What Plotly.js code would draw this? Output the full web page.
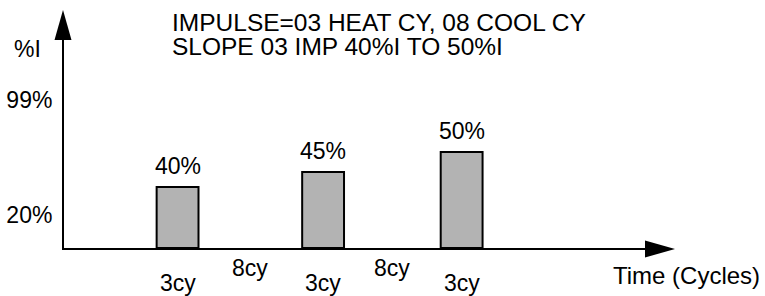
<!DOCTYPE html>
<html><head><meta charset="utf-8">
<script src="https://cdn.plot.ly/plotly-3.0.1.min.js"></script>
<style>html,body{margin:0;padding:0;background:#fff}</style>
</head><body><div id="chart" style="width:765px;height:296px"></div>
<script>
// ---- data (schematic values) ----
const barLabels   = ['40%', '45%', '50%'];     // printed impulse levels
const barLevels   = [39.2, 49.5, 63.3];        // drawn height on the %I scale
const barCenters  = [8.14, 18.57, 28.5];       // time position (cycles, schematic)
const barWidthCy  = 3;                          // heat cycles per impulse
const heatLabels  = ['3cy', '3cy', '3cy'];
const coolLabels  = ['8cy', '8cy'];
const yTickVals   = [20, 99];
const yTickText   = ['20%', '99%'];
const yAxisLabel  = '%I';
const xAxisLabel  = 'Time (Cycles)';
const noteLines   = ['IMPULSE=03 HEAT CY, 08 COOL CY', 'SLOPE 03 IMP 40%I TO 50%I'];

// ---- layout geometry ----
const W = 765, H = 296;
const M = {l: 64, r: 115, t: 40, b: 48};
const PW = W - M.l - M.r, PH = H - M.t - M.b;
const yMin = -2.67, yMax = 140.2;
const xMin = 0, xMax = 42;
const px = x => (x - M.l) / PW;
const py = y => (H - M.b - y) / PH;
const FONT = 'Liberation Sans, Arial, Helvetica, sans-serif';
const FS = 23;
const FT = 24;
const FN = 24.5;

const trace = {
  type: 'bar',
  x: barCenters,
  y: barLevels.map(v => v - yMin),
  base: yMin,
  width: barWidthCy,
  marker: {color: '#b3b3b3', line: {color: '#000', width: 2}},
  hoverinfo: 'skip'
};

const ann = [];
barLabels.forEach((t, i) => ann.push({
  x: barCenters[i], y: barLevels[i], xref: 'x', yref: 'y',
  text: t, showarrow: false, xanchor: 'center', yanchor: 'bottom', yshift: 6,
  font: {family: FONT, size: FS, color: '#000'}
}));
heatLabels.forEach((t, i) => ann.push({
  x: barCenters[i], xref: 'x', y: py(282.5), yref: 'paper',
  text: t, showarrow: false, xanchor: 'center', yanchor: 'middle',
  font: {family: FONT, size: FS, color: '#000'}
}));
coolLabels.forEach((t, i) => ann.push({
  x: (barCenters[i] + barCenters[i + 1]) / 2, xref: 'x', y: py(268), yref: 'paper',
  text: t, showarrow: false, xanchor: 'center', yanchor: 'middle',
  font: {family: FONT, size: FS, color: '#000'}
}));
ann.push({x: px(611), y: py(275), xref: 'paper', yref: 'paper', text: xAxisLabel,
  showarrow: false, xanchor: 'left', yanchor: 'middle', font: {family: FONT, size: FT, color: '#000'}});
ann.push({x: px(12), y: py(49), xref: 'paper', yref: 'paper', text: yAxisLabel,
  showarrow: false, xanchor: 'left', yanchor: 'middle', font: {family: FONT, size: FS, color: '#000'}});
noteLines.forEach((t, i) => ann.push({
  x: px(170), y: py(22 + i * 24), xref: 'paper', yref: 'paper', text: t,
  showarrow: false, xanchor: 'left', yanchor: 'middle', font: {family: FONT, size: FN, color: '#000'}
}));

const shapes = [
  {type: 'path', xref: 'paper', yref: 'paper', xsizemode: 'pixel', ysizemode: 'pixel',
   xanchor: 0, yanchor: 1, path: 'M -9.5 0 L 7.5 0 L -1 30 Z',
   fillcolor: '#000', line: {width: 0}},
  {type: 'path', xref: 'paper', yref: 'paper', xsizemode: 'pixel', ysizemode: 'pixel',
   xanchor: 1, yanchor: 0, path: 'M -5 7.5 L -5 -9.5 L 25 -1 Z',
   fillcolor: '#000', line: {width: 0}}
];

const layout = {
  width: W, height: H, margin: M,
  paper_bgcolor: '#fff', plot_bgcolor: '#fff',
  showlegend: false,
  font: {family: FONT, size: FS, color: '#000'},
  xaxis: {range: [xMin, xMax], showline: true, linewidth: 2, linecolor: '#000',
          showgrid: false, zeroline: false, showticklabels: false, ticks: '', fixedrange: true},
  yaxis: {range: [yMin, yMax], showline: true, linewidth: 2, linecolor: '#000',
          showgrid: false, zeroline: false, ticks: '', tickvals: yTickVals, ticktext: yTickText,
          tickfont: {family: FONT, size: FS, color: '#000'}, ticklabelstandoff: 5, fixedrange: true},
  annotations: ann,
  shapes: shapes
};

Plotly.newPlot('chart', [trace], layout, {displayModeBar: false, staticPlot: true});
</script>
</body></html>
